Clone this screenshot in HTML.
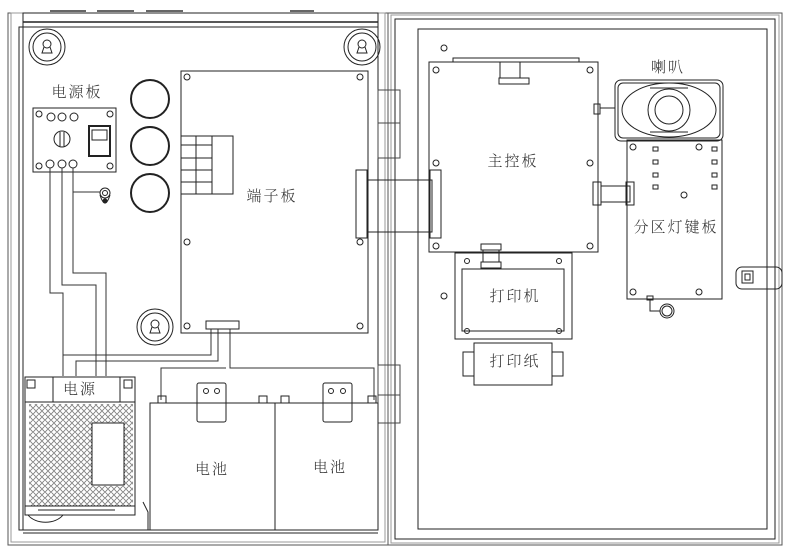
<!DOCTYPE html>
<html><head><meta charset="utf-8"><style>
html,body{margin:0;padding:0;background:#fff}
svg{display:block}
text{font-family:"Noto Serif CJK SC","WenQuanYi Zen Hei",serif;font-size:15px;font-weight:300;fill:#333;stroke:none;text-anchor:middle;dominant-baseline:middle;letter-spacing:2px}
</style></head><body>
<svg width="790" height="560" viewBox="0 0 790 560" xmlns="http://www.w3.org/2000/svg" fill="none" stroke="#222" stroke-width="1">
<g stroke="#666" stroke-width="2"><line x1="50" y1="11" x2="86" y2="11"/><line x1="97" y1="11" x2="134" y2="11"/><line x1="146" y1="11" x2="183" y2="11"/><line x1="290" y1="11" x2="314" y2="11"/></g>
<rect x="8" y="13" width="380" height="532" stroke="#555"/>
<rect x="11" y="13" width="374" height="529" stroke="#999"/>
<rect x="23" y="13" width="355" height="517"/>
<line x1="23" y1="22" x2="378" y2="22" stroke-width="1.5"/>
<rect x="19" y="27" width="359" height="503"/>
<line x1="23" y1="533" x2="378" y2="533"/>
<rect x="388" y="13" width="394" height="532" stroke="#555"/>
<rect x="391" y="15" width="388" height="528" stroke="#999"/>
<rect x="395" y="19" width="380" height="520"/>
<rect x="418" y="29" width="349" height="500"/>
<g stroke="#444"><rect x="378" y="90" width="22" height="68"/><line x1="378" y1="123" x2="400" y2="123"/><rect x="378" y="365" width="22" height="58"/><line x1="378" y1="395" x2="400" y2="395"/></g>
<g><circle cx="47" cy="47" r="18"/><circle cx="47" cy="47" r="14"/><circle cx="47" cy="44" r="4"/><path d="M44 47 l-2 6 h10 l-2 -6"/>
<circle cx="362" cy="47" r="18"/><circle cx="362" cy="47" r="14"/><circle cx="362" cy="44" r="4"/><path d="M359 47 l-2 6 h10 l-2 -6"/>
<circle cx="155" cy="327" r="18"/><circle cx="155" cy="327" r="14"/><circle cx="155" cy="324" r="4"/><path d="M152 327 l-2 6 h10 l-2 -6"/></g>
<text x="77" y="93">电源板</text>
<rect x="33" y="108" width="83" height="64"/>
<g><circle cx="39" cy="114" r="3"/><circle cx="110" cy="114" r="3"/><circle cx="39" cy="166" r="3"/><circle cx="110" cy="166" r="3"/>
<circle cx="51" cy="117" r="4"/><circle cx="62" cy="117" r="4"/><circle cx="74" cy="117" r="4"/>
<circle cx="50" cy="164" r="4"/><circle cx="62" cy="164" r="4"/><circle cx="73" cy="164" r="4"/>
<circle cx="62" cy="139" r="8"/><line x1="60" y1="132" x2="60" y2="146"/><line x1="64" y1="132" x2="64" y2="146"/>
<rect x="89" y="126" width="21" height="30" stroke-width="2"/><rect x="92" y="130" width="15" height="10"/></g>
<circle cx="105" cy="193" r="5"/><circle cx="105" cy="193" r="2.5"/><path d="M100 195 q5 16 10 0"/><circle cx="105" cy="201" r="2" fill="#222"/>
<g stroke="#333"><path d="M50 168 V293 H63 V376"/><path d="M62 168 V285 H96 V376"/><path d="M73 168 V192 H100"/><path d="M73 192 V273 H106 V376"/>
<path d="M63 376 V355 H211 V329"/><path d="M76 376 V361 H218 V329"/><path d="M230 329 V368 H374 V400"/><path d="M161 400 V368 H226"/></g>
<g stroke-width="2"><circle cx="150" cy="99" r="19"/><circle cx="150" cy="146" r="19"/><circle cx="150" cy="193" r="19"/></g>
<rect x="181" y="71" width="187" height="262"/>
<g><circle cx="187" cy="77" r="3"/><circle cx="360" cy="77" r="3"/><circle cx="187" cy="242" r="3"/><circle cx="360" cy="242" r="3"/><circle cx="187" cy="326" r="3"/><circle cx="360" cy="326" r="3"/></g>
<rect x="181" y="136" width="52" height="58"/><line x1="196" y1="136" x2="196" y2="194"/><line x1="212" y1="136" x2="212" y2="194"/>
<g><line x1="181" y1="145" x2="212" y2="145"/><line x1="181" y1="158" x2="212" y2="158"/><line x1="181" y1="170" x2="212" y2="170"/><line x1="181" y1="182" x2="212" y2="182"/></g>
<text x="272" y="197">端子板</text>
<rect x="206" y="321" width="33" height="8"/>
<rect x="356" y="170" width="11" height="68"/><rect x="367" y="180" width="65" height="52"/><rect x="430" y="170" width="11" height="68"/>
<rect x="25" y="377" width="110" height="138"/>
<rect x="53" y="377" width="67" height="25"/><line x1="25" y1="402" x2="135" y2="402"/>
<rect x="27" y="380" width="8" height="8"/><rect x="124" y="380" width="8" height="8"/>
<text x="80" y="390">电源</text>
<pattern id="dots" width="6" height="6" patternUnits="userSpaceOnUse"><circle cx="3" cy="3" r="2.3" stroke="#444" stroke-width="0.7"/></pattern>
<rect x="29" y="404" width="104" height="102" fill="url(#dots)" stroke="none"/>
<rect x="92" y="423" width="32" height="62" fill="#fff"/>
<rect x="25" y="506" width="110" height="9"/><line x1="38" y1="510" x2="115" y2="510"/>
<path d="M28 515 a20 14 0 0 0 35 0"/>
<path d="M143 502 l5 10 V530"/>
<rect x="150" y="403" width="228" height="127"/><line x1="275" y1="403" x2="275" y2="530"/>
<g><rect x="158" y="396" width="8" height="7"/><rect x="259" y="396" width="8" height="7"/><rect x="281" y="396" width="8" height="7"/><rect x="368" y="396" width="8" height="7"/>
<rect x="197" y="383" width="29" height="39" rx="2"/><line x1="197" y1="403" x2="226" y2="403"/><circle cx="206" cy="391" r="2.5"/><circle cx="217" cy="391" r="2.5"/>
<rect x="323" y="383" width="29" height="39" rx="2"/><line x1="323" y1="403" x2="352" y2="403"/><circle cx="331" cy="391" r="2.5"/><circle cx="343" cy="391" r="2.5"/></g>
<text x="212" y="470">电池</text><text x="330" y="468">电池</text>
<circle cx="444" cy="48" r="3"/><circle cx="444" cy="296" r="3"/>
<path d="M453 62 V58 h126 v4"/>
<rect x="429" y="62" width="169" height="190"/>
<rect x="500" y="62" width="20" height="16"/><rect x="499" y="78" width="30" height="6"/>
<g><circle cx="436" cy="70" r="3"/><circle cx="590" cy="70" r="3"/><circle cx="436" cy="163" r="3"/><circle cx="590" cy="163" r="3"/><circle cx="436" cy="246" r="3"/><circle cx="590" cy="246" r="3"/></g>
<text x="513" y="162">主控板</text>
<rect x="593" y="182" width="8" height="23"/><rect x="601" y="186" width="29" height="16"/><rect x="626" y="182" width="8" height="23"/>
<rect x="594" y="104" width="6" height="10"/><line x1="600" y1="108" x2="615" y2="108"/>
<text x="668" y="68">喇叭</text>
<rect x="615" y="80" width="108" height="61" rx="6"/><rect x="618" y="83" width="102" height="55" rx="5"/>
<ellipse cx="669" cy="110" rx="47" ry="27"/><circle cx="669" cy="110" r="21"/><circle cx="669" cy="110" r="14"/>
<path d="M650 88 h38 M650 132 h38"/>
<rect x="627" y="140" width="95" height="159"/>
<g><circle cx="633" cy="147" r="3"/><circle cx="699" cy="147" r="3"/><circle cx="684" cy="195" r="3"/><circle cx="633" cy="292" r="3"/><circle cx="699" cy="292" r="3"/>
<rect x="653" y="147" width="5" height="4"/><rect x="653" y="160" width="5" height="4"/><rect x="653" y="173" width="5" height="4"/><rect x="653" y="185" width="5" height="4"/>
<rect x="712" y="147" width="5" height="4"/><rect x="712" y="160" width="5" height="4"/><rect x="712" y="173" width="5" height="4"/><rect x="712" y="185" width="5" height="4"/></g>
<text x="676" y="228">分区灯键板</text>
<rect x="647" y="296" width="6" height="4"/><path d="M650 300 V311 H660"/><circle cx="667" cy="311" r="7"/><circle cx="667" cy="311" r="5"/>
<rect x="736" y="267" width="46" height="22" rx="6"/><rect x="742" y="271" width="11" height="12"/><rect x="745" y="274" width="5" height="6"/>
<rect x="455" y="253" width="117" height="86"/><rect x="462" y="269" width="102" height="62"/>
<g><circle cx="467" cy="261" r="2.5"/><circle cx="559" cy="261" r="2.5"/><circle cx="467" cy="331" r="2.5"/><circle cx="559" cy="331" r="2.5"/></g>
<rect x="481" y="244" width="20" height="6"/><rect x="483" y="250" width="16" height="12"/><rect x="481" y="262" width="20" height="6"/>
<text x="515" y="297">打印机</text>
<rect x="474" y="343" width="78" height="42"/>
<rect x="463" y="352" width="11" height="24"/><rect x="552" y="352" width="11" height="24"/>
<text x="515" y="362">打印纸</text>
</svg>
</body></html>
